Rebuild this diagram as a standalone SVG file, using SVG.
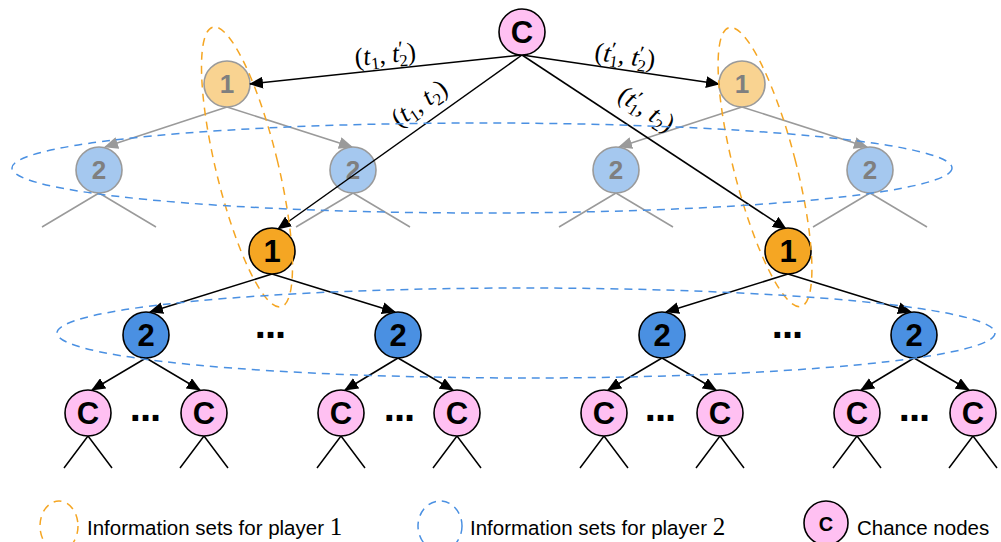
<svg xmlns="http://www.w3.org/2000/svg" width="1001" height="542" viewBox="0 0 1001 542">
<style>
.n{stroke:#000;stroke-width:1.6}
.c{fill:#FFC0F2}
.o{fill:#F5A623}
.b{fill:#4A90E2}
.fo{fill:#F9D391;stroke:#9A9A9A;stroke-width:1.6}
.fb{fill:#A5C8EF;stroke:#9A9A9A;stroke-width:1.6}
.t{font-family:"Liberation Sans",Arial,sans-serif;font-weight:bold;font-size:31px;text-anchor:middle}
.ft{font-family:"Liberation Sans",Arial,sans-serif;font-weight:bold;font-size:26px;text-anchor:middle;fill:#7F7F7F}
.e{stroke:#000;stroke-width:1.5;fill:none}
.ea{stroke:#000;stroke-width:1.5;fill:none;marker-end:url(#ah)}
.fe{stroke:#9A9A9A;stroke-width:1.5;fill:none}
.fea{stroke:#9A9A9A;stroke-width:1.5;fill:none;marker-end:url(#gh)}
.dots{font-family:"Liberation Sans",Arial,sans-serif;font-weight:bold;font-size:40px;letter-spacing:-1px;text-anchor:middle}
.m{font-family:"Liberation Serif","Times New Roman",serif;font-size:26px;text-anchor:middle}
.it{font-style:italic}
.sb{font-size:17px}
.pr{font-size:21px}
.lg{font-family:"Liberation Sans",Arial,sans-serif;font-size:20.5px}
.lm{font-family:"Liberation Serif","Times New Roman",serif;font-size:25px}
.od{fill:none;stroke:#F5A623;stroke-width:1.5;stroke-dasharray:8 6}
.bd{fill:none;stroke:#4A90E2;stroke-width:1.5;stroke-dasharray:8 6}
</style>
<defs>
<marker id="ah" markerWidth="14" markerHeight="12" refX="13" refY="6" orient="auto" markerUnits="userSpaceOnUse"><path d="M0,0 L14,6 L0,12 z" fill="#000"/></marker>
<marker id="gh" markerWidth="14" markerHeight="12" refX="13" refY="6" orient="auto" markerUnits="userSpaceOnUse"><path d="M0,0 L14,6 L0,12 z" fill="#9A9A9A"/></marker>
</defs>

<g id="faded-connectors">
<line class="fea" x1="227" y1="107" x2="105" y2="147"/>
<line class="fea" x1="227" y1="107" x2="352" y2="147"/>
<line class="fea" x1="742" y1="107" x2="619" y2="147"/>
<line class="fea" x1="742" y1="107" x2="867" y2="147"/>
<path class="fe" d="M99,193 L42,227 M99,193 L156,227"/>
<path class="fe" d="M353,193 L296,227 M353,193 L410,227"/>
<path class="fe" d="M616,193 L559,227 M616,193 L673,227"/>
<path class="fe" d="M870,193 L813,227 M870,193 L927,227"/>
</g>

<g id="faded-nodes">
<g id="f1L"><circle class="fo" cx="227" cy="84" r="23"/><text class="ft" x="227" y="93">1</text></g>
<g id="f1R"><circle class="fo" cx="742" cy="84" r="23"/><text class="ft" x="742" y="93">1</text></g>
<g id="f2a"><circle class="fb" cx="99" cy="170" r="23"/><text class="ft" x="99" y="179">2</text></g>
<g id="f2b"><circle class="fb" cx="353" cy="170" r="23"/><text class="ft" x="353" y="179">2</text></g>
<g id="f2c"><circle class="fb" cx="616" cy="170" r="23"/><text class="ft" x="616" y="179">2</text></g>
<g id="f2d"><circle class="fb" cx="870" cy="170" r="23"/><text class="ft" x="870" y="179">2</text></g>
</g>

<g id="connectors">
<line class="ea" x1="522" y1="55" x2="250" y2="84"/>
<line class="ea" x1="522" y1="55" x2="719" y2="84"/>
<line class="ea" x1="522" y1="55" x2="278" y2="229"/>
<line class="ea" x1="522" y1="55" x2="786" y2="229"/>
<line class="ea" x1="272" y1="274" x2="150" y2="312"/>
<line class="ea" x1="272" y1="274" x2="395" y2="312"/>
<line class="ea" x1="788" y1="274" x2="666" y2="312"/>
<line class="ea" x1="788" y1="274" x2="911" y2="312"/>
<line class="ea" x1="146" y1="358" x2="92" y2="390"/>
<line class="ea" x1="146" y1="358" x2="200" y2="390"/>
<line class="ea" x1="398" y1="358" x2="345" y2="390"/>
<line class="ea" x1="398" y1="358" x2="453" y2="390"/>
<line class="ea" x1="662" y1="358" x2="608" y2="390"/>
<line class="ea" x1="662" y1="358" x2="716" y2="390"/>
<line class="ea" x1="914" y1="358" x2="861" y2="390"/>
<line class="ea" x1="914" y1="358" x2="969" y2="390"/>
<path class="e" d="M88,436 L64,468 M88,436 L112,468"/>
<path class="e" d="M204,436 L180,468 M204,436 L228,468"/>
<path class="e" d="M341,436 L317,468 M341,436 L365,468"/>
<path class="e" d="M457,436 L433,468 M457,436 L481,468"/>
<path class="e" d="M604,436 L580,468 M604,436 L628,468"/>
<path class="e" d="M720,436 L696,468 M720,436 L744,468"/>
<path class="e" d="M857,436 L833,468 M857,436 L881,468"/>
<path class="e" d="M973,436 L949,468 M973,436 L997,468"/>
</g>

<g id="edge-labels">
<text class="m" transform="translate(386,63) rotate(-6)">(<tspan class="it">t</tspan><tspan class="sb" dy="5">1</tspan><tspan dy="-5">, </tspan><tspan class="it">t</tspan><tspan class="pr" dy="-6">′</tspan><tspan class="sb" dx="-5" dy="11">2</tspan><tspan dy="-5">)</tspan></text>
<text class="m" transform="translate(624,64) rotate(8)">(<tspan class="it">t</tspan><tspan class="pr" dy="-6">′</tspan><tspan class="sb" dx="-5" dy="11">1</tspan><tspan dy="-5">, </tspan><tspan class="it">t</tspan><tspan class="pr" dy="-6">′</tspan><tspan class="sb" dx="-5" dy="11">2</tspan><tspan dy="-5">)</tspan></text>
<text class="m" transform="translate(424,110) rotate(-35)">(<tspan class="it">t</tspan><tspan class="sb" dy="5">1</tspan><tspan dy="-5">, </tspan><tspan class="it">t</tspan><tspan class="sb" dy="5">2</tspan><tspan dy="-5">)</tspan></text>
<text class="m" transform="translate(642,116) rotate(33)">(<tspan class="it">t</tspan><tspan class="pr" dy="-6">′</tspan><tspan class="sb" dx="-5" dy="11">1</tspan><tspan dy="-5">, </tspan><tspan class="it">t</tspan><tspan class="sb" dy="5">2</tspan><tspan dy="-5">)</tspan></text>
</g>

<g id="nodes">
<g id="root"><circle class="n c" cx="522" cy="32" r="23"/><text class="t" x="522" y="43">C</text></g>
<g id="p1L"><circle class="n o" cx="272" cy="251" r="23"/><text class="t" x="272" y="262">1</text></g>
<g id="p1R"><circle class="n o" cx="788" cy="251" r="23"/><text class="t" x="788" y="262">1</text></g>
<g id="p2a"><circle class="n b" cx="146" cy="335" r="23"/><text class="t" x="146" y="346">2</text></g>
<g id="p2b"><circle class="n b" cx="398" cy="335" r="23"/><text class="t" x="398" y="346">2</text></g>
<g id="p2c"><circle class="n b" cx="662" cy="335" r="23"/><text class="t" x="662" y="346">2</text></g>
<g id="p2d"><circle class="n b" cx="914" cy="335" r="23"/><text class="t" x="914" y="346">2</text></g>
<g id="c1"><circle class="n c" cx="88" cy="413" r="23"/><text class="t" x="88" y="424">C</text></g>
<g id="c2"><circle class="n c" cx="204" cy="413" r="23"/><text class="t" x="204" y="424">C</text></g>
<g id="c3"><circle class="n c" cx="341" cy="413" r="23"/><text class="t" x="341" y="424">C</text></g>
<g id="c4"><circle class="n c" cx="457" cy="413" r="23"/><text class="t" x="457" y="424">C</text></g>
<g id="c5"><circle class="n c" cx="604" cy="413" r="23"/><text class="t" x="604" y="424">C</text></g>
<g id="c6"><circle class="n c" cx="720" cy="413" r="23"/><text class="t" x="720" y="424">C</text></g>
<g id="c7"><circle class="n c" cx="857" cy="413" r="23"/><text class="t" x="857" y="424">C</text></g>
<g id="c8"><circle class="n c" cx="973" cy="413" r="23"/><text class="t" x="973" y="424">C</text></g>
</g>

<g id="ellipsis">
<text class="dots" x="270" y="338">...</text>
<text class="dots" x="787" y="338">...</text>
<text class="dots" x="145" y="421">...</text>
<text class="dots" x="399" y="421">...</text>
<text class="dots" x="660" y="421">...</text>
<text class="dots" x="914" y="421">...</text>
</g>

<g id="info-sets">
<ellipse class="od" cx="247" cy="167" rx="31" ry="144" transform="rotate(-13.7 247 167)"/>
<ellipse class="od" cx="765" cy="167" rx="31" ry="144" transform="rotate(-14.5 765 167)"/>
<ellipse class="bd" cx="482" cy="168" rx="470" ry="45"/>
<ellipse class="bd" cx="526" cy="333" rx="469" ry="45"/>
</g>

<g id="legend">
<ellipse class="od" cx="59" cy="526" rx="19" ry="25"/>
<text class="lg" x="87" y="535">Information sets for player <tspan class="lm">1</tspan></text>
<ellipse class="bd" cx="440" cy="526" rx="22" ry="25"/>
<text class="lg" x="470" y="535">Information sets for player <tspan class="lm">2</tspan></text>
<circle class="n c" cx="826" cy="523" r="22"/>
<text x="826" y="531" font-family="Liberation Sans,Arial,sans-serif" font-weight="bold" font-size="20" text-anchor="middle">C</text>
<text class="lg" x="857" y="535">Chance nodes</text>
</g>
</svg>
